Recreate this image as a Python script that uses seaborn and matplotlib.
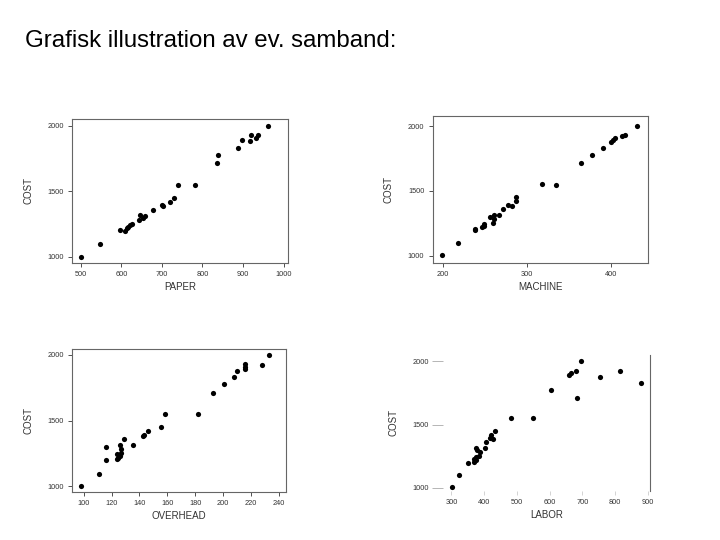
import seaborn as sns
import pandas as pd
import matplotlib.pyplot as plt

cost = [1003, 1097, 1198, 1206, 1219, 1228, 1245, 1251, 1282, 1299, 1313, 1316, 1360, 1385,
        1393, 1419, 1450, 1550, 1548, 1712, 1776, 1829, 1880, 1890, 1905, 1926, 1928, 2000]
paper = [501, 548, 609, 596, 614, 617, 620, 626, 644, 653, 657, 646, 678, 702,
         700, 721, 730, 739, 781, 836, 839, 888, 917, 898, 931, 936, 919, 962]
machine = [199.6, 218.6, 238.4, 238.6, 246.3, 249.1, 249.5, 259.4, 260.6, 255.8, 266.5, 261.0, 272.0, 282.0,
           277.6, 286.7, 287.1, 318, 335, 364, 377, 390.5, 400, 402, 405, 412.7, 416.6, 431]
overhead = [97.8, 111.2, 116.3, 123.7, 124.9, 126.3, 123.7, 127.0, 126.8, 116.3, 135.2, 125.8, 128.9, 142.3,
            143.1, 146.4, 155.5, 158.6, 182, 192.6, 200.5, 208, 210, 216, 216, 228, 216, 233]
labor = [301, 324, 350, 368, 374, 370, 376, 385, 387, 379, 402, 375, 405, 427,
         417, 422, 432, 481, 549, 684, 603, 880, 753, 660, 664, 815, 681, 696]

df = pd.DataFrame({'COST': cost, 'PAPER': paper, 'MACHINE': machine,
                   'OVERHEAD': overhead, 'LABOR': labor})

sns.set_style('white')
plt.rcParams['font.family'] = ['Liberation Sans', 'DejaVu Sans']

fig = plt.figure(figsize=(7.2, 5.4), dpi=100)
fig.text(25 / 720, 1 - 47 / 540, 'Grafisk illustration av ev. samband:', fontsize=17.3,
         ha='left', va='baseline', color='black')

panels = [
    ('PAPER', [0.100, 0.513, 0.300, 0.267], (478, 1011), (954, 2051), [500, 600, 700, 800, 900, 1000]),
    ('MACHINE', [0.601, 0.513, 0.299, 0.272], (188, 444), (944, 2077), [200, 300, 400]),
    ('OVERHEAD', [0.100, 0.089, 0.297, 0.265], (91.6, 245), (957, 2046), [100, 120, 140, 160, 180, 200, 220, 240]),
    ('LABOR', [0.615, 0.091, 0.2875, 0.252], (273.5, 906), (974, 2053), [300, 400, 500, 600, 700, 800, 900]),
]

for name, rect, xlim, ylim, xticks in panels:
    ax = fig.add_axes(rect)
    sns.scatterplot(data=df, x=name, y='COST', ax=ax, color='black', s=14,
                    edgecolor='black', linewidth=0)
    ax.set_xlim(*xlim)
    ax.set_ylim(*ylim)
    ax.set_xticks(xticks)
    ax.set_yticks([1000, 1500, 2000])
    ax.set_xlabel(name, fontsize=7, color='#333333', labelpad=3)
    ax.set_ylabel('COST', fontsize=7, color='#333333', labelpad=10)
    ax.tick_params(labelsize=5.3, colors='#333333', length=3, width=0.6, pad=3,
                   direction='out', bottom=True, left=True)
    for sp in ax.spines.values():
        sp.set_color('#666666')
        sp.set_linewidth(0.8)
    if name == 'LABOR':
        ax.spines['left'].set_visible(False)
        ax.spines['bottom'].set_visible(False)
        ax.spines['top'].set_visible(False)
        ax.tick_params(axis='y', length=8, color='#aaaaaa', pad=2)
        ax.tick_params(axis='x', length=3, color='#cccccc')

fig.savefig('out.png', dpi=100)
